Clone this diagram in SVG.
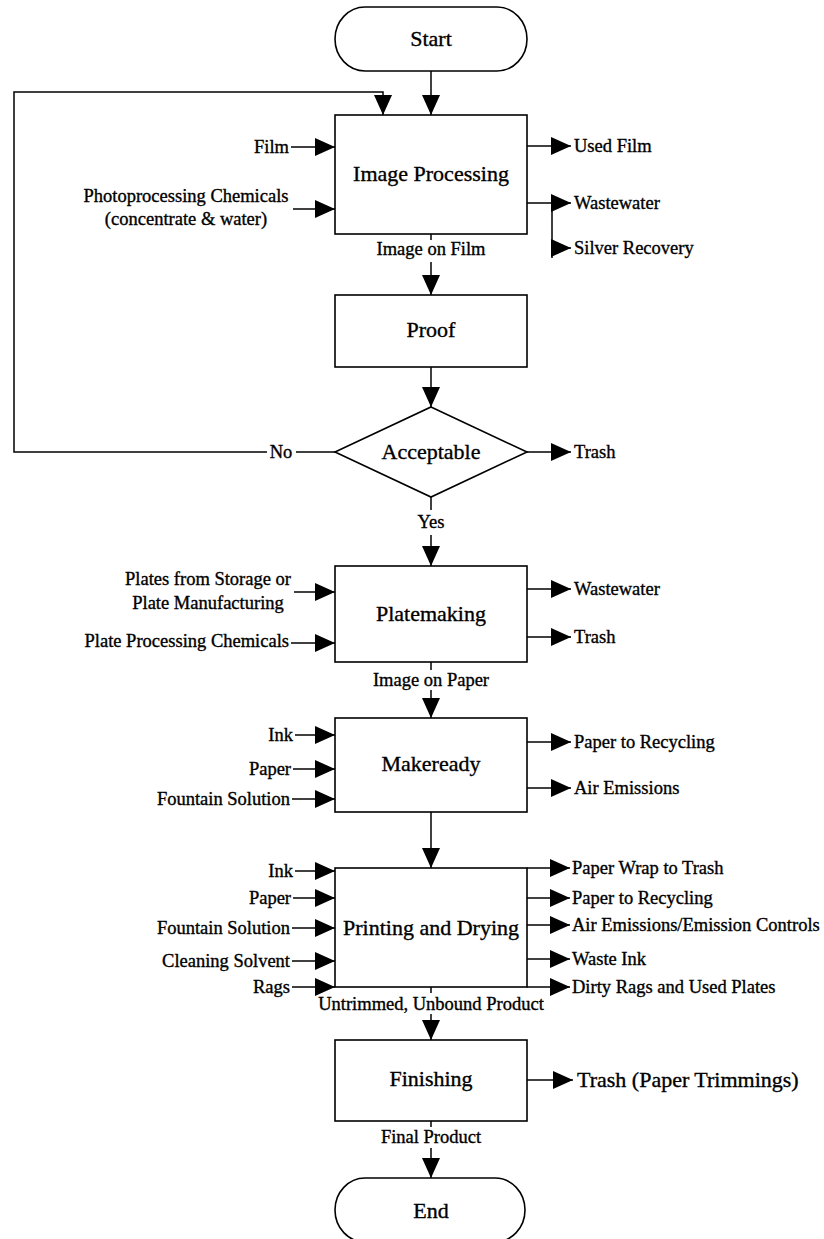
<svg xmlns="http://www.w3.org/2000/svg" width="824" height="1239" viewBox="0 0 824 1239">
<style>
.shape{fill:#fff;stroke:#000;stroke-width:1.6}
.ln{fill:none;stroke:#000;stroke-width:1.5}
.t{font-family:"Liberation Serif","Times New Roman",serif;fill:#000;stroke:#000;stroke-width:0.35}
.title{font-size:22px;text-anchor:middle}
.lbl{font-size:18.5px}
.end{text-anchor:end}
.mid{text-anchor:middle}
.st{text-anchor:start}
</style>
<defs>
<marker id="ah" viewBox="0 0 20 18" refX="20" refY="9" markerWidth="20" markerHeight="18" markerUnits="userSpaceOnUse" orient="auto">
<path d="M0,0 L20,9 L0,18 Z" fill="#000"/>
</marker>
</defs>
<rect width="824" height="1239" fill="#fff"/>

<g id="connectors">
<path class="ln" d="M431,71 V115" marker-end="url(#ah)"/>
<path class="ln" d="M335,452 H296"/>
<path class="ln" d="M267,452 H14 V92 H383 V115" marker-end="url(#ah)"/>
<path class="ln" d="M291,147 H335" marker-end="url(#ah)"/>
<path class="ln" d="M293,209 H335" marker-end="url(#ah)"/>
<path class="ln" d="M527,146 H571" marker-end="url(#ah)"/>
<path class="ln" d="M527,203 H571" marker-end="url(#ah)"/>
<path class="ln" d="M552,203 V258"/>
<path class="ln" d="M552,248 H571" marker-end="url(#ah)"/>
<path class="ln" d="M431,234 V240"/>
<path class="ln" d="M431,262 V295" marker-end="url(#ah)"/>
<path class="ln" d="M431,367 V407" marker-end="url(#ah)"/>
<path class="ln" d="M527,452 H571" marker-end="url(#ah)"/>
<path class="ln" d="M431,497 V510"/>
<path class="ln" d="M431,535 V566" marker-end="url(#ah)"/>
<path class="ln" d="M294,592 H335" marker-end="url(#ah)"/>
<path class="ln" d="M291,643 H335" marker-end="url(#ah)"/>
<path class="ln" d="M527,589 H571" marker-end="url(#ah)"/>
<path class="ln" d="M527,637 H571" marker-end="url(#ah)"/>
<path class="ln" d="M431,662 V670"/>
<path class="ln" d="M431,690 V718" marker-end="url(#ah)"/>
<path class="ln" d="M295,735 H335" marker-end="url(#ah)"/>
<path class="ln" d="M293,769 H335" marker-end="url(#ah)"/>
<path class="ln" d="M292,799 H335" marker-end="url(#ah)"/>
<path class="ln" d="M527,742 H571" marker-end="url(#ah)"/>
<path class="ln" d="M527,788 H571" marker-end="url(#ah)"/>
<path class="ln" d="M431,812 V868" marker-end="url(#ah)"/>
<path class="ln" d="M295,871 H335" marker-end="url(#ah)"/>
<path class="ln" d="M293,898 H335" marker-end="url(#ah)"/>
<path class="ln" d="M292,928 H335" marker-end="url(#ah)"/>
<path class="ln" d="M292,961 H335" marker-end="url(#ah)"/>
<path class="ln" d="M292,987 H335" marker-end="url(#ah)"/>
<path class="ln" d="M527,868 H570" marker-end="url(#ah)"/>
<path class="ln" d="M527,898 H570" marker-end="url(#ah)"/>
<path class="ln" d="M527,925 H570" marker-end="url(#ah)"/>
<path class="ln" d="M527,959 H570" marker-end="url(#ah)"/>
<path class="ln" d="M527,987 H570" marker-end="url(#ah)"/>
<path class="ln" d="M431,987 V993"/>
<path class="ln" d="M431,1014 V1040" marker-end="url(#ah)"/>
<path class="ln" d="M527,1080 H573" marker-end="url(#ah)"/>
<path class="ln" d="M431,1121 V1127"/>
<path class="ln" d="M431,1148 V1178" marker-end="url(#ah)"/>
</g>

<g id="start">
<path class="shape" d="M365,7 H497 A30,32 0 0 1 497,71 H365 A30,32 0 0 1 365,7 Z"/>
<text class="t title" x="431" y="46">Start</text>
</g>

<g id="image-processing">
<rect class="shape" x="335" y="115" width="192" height="119"/>
<text class="t title" x="431" y="181">Image Processing</text>
</g>

<g id="proof">
<rect class="shape" x="335" y="295" width="192" height="72"/>
<text class="t title" x="431" y="337">Proof</text>
</g>

<g id="acceptable">
<path class="shape" d="M431,407 L527,452 L431,497 L335,452 Z"/>
<text class="t title" x="431" y="459">Acceptable</text>
</g>

<g id="platemaking">
<rect class="shape" x="335" y="566" width="192" height="96"/>
<text class="t title" x="431" y="621">Platemaking</text>
</g>

<g id="makeready">
<rect class="shape" x="335" y="718" width="192" height="94"/>
<text class="t title" x="431" y="771">Makeready</text>
</g>

<g id="printing">
<rect class="shape" x="335" y="868" width="192" height="119"/>
<text class="t title" x="431" y="935">Printing and Drying</text>
</g>

<g id="finishing">
<rect class="shape" x="335" y="1040" width="192" height="81"/>
<text class="t title" x="431" y="1086">Finishing</text>
</g>

<g id="end">
<path class="shape" d="M365,1178 H495 A30,32 0 0 1 495,1242 H365 A30,32 0 0 1 365,1178 Z"/>
<text class="t title" x="431" y="1218">End</text>
</g>

<g id="labels">
<text class="t lbl end" x="289" y="153">Film</text>
<text class="t lbl mid" x="186" y="202">Photoprocessing Chemicals</text>
<text class="t lbl mid" x="186" y="225">(concentrate &amp; water)</text>
<text class="t lbl" x="574" y="152">Used Film</text>
<text class="t lbl" x="574" y="209">Wastewater</text>
<text class="t lbl" x="574" y="254">Silver Recovery</text>
<text class="t lbl mid" x="431" y="255">Image on Film</text>
<text class="t lbl mid" x="281" y="458">No</text>
<text class="t lbl" x="574" y="458">Trash</text>
<text class="t lbl mid" x="431" y="528">Yes</text>
<text class="t lbl mid" x="208" y="585">Plates from Storage or</text>
<text class="t lbl mid" x="208" y="609">Plate Manufacturing</text>
<text class="t lbl end" x="289" y="647">Plate Processing Chemicals</text>
<text class="t lbl" x="574" y="595">Wastewater</text>
<text class="t lbl" x="574" y="643">Trash</text>
<text class="t lbl mid" x="431" y="686">Image on Paper</text>
<text class="t lbl end" x="293" y="741">Ink</text>
<text class="t lbl end" x="291" y="775">Paper</text>
<text class="t lbl end" x="290" y="805">Fountain Solution</text>
<text class="t lbl" x="574" y="748">Paper to Recycling</text>
<text class="t lbl" x="574" y="794">Air Emissions</text>
<text class="t lbl end" x="293" y="877">Ink</text>
<text class="t lbl end" x="291" y="904">Paper</text>
<text class="t lbl end" x="290" y="934">Fountain Solution</text>
<text class="t lbl end" x="290" y="967">Cleaning Solvent</text>
<text class="t lbl end" x="290" y="993">Rags</text>
<text class="t lbl" x="572" y="874">Paper Wrap to Trash</text>
<text class="t lbl" x="572" y="904">Paper to Recycling</text>
<text class="t lbl" x="572" y="931">Air Emissions/Emission Controls</text>
<text class="t lbl" x="572" y="965">Waste Ink</text>
<text class="t lbl" x="572" y="993">Dirty Rags and Used Plates</text>
<text class="t lbl mid" x="431" y="1010">Untrimmed, Unbound Product</text>
<text class="t title st" x="577" y="1087">Trash (Paper Trimmings)</text>
<text class="t lbl mid" x="431" y="1143">Final Product</text>
</g>
</svg>
